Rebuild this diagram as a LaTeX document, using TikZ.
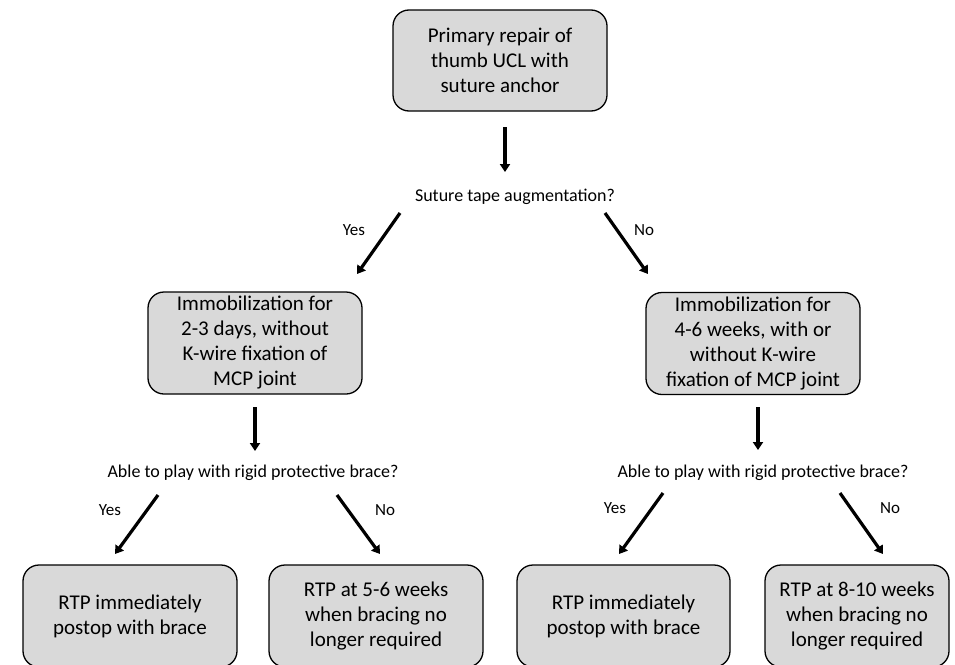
\documentclass[tikz,border=0pt]{standalone}
\usepackage{fontspec}
\setmainfont{Carlito}
\usetikzlibrary{arrows.meta}
\definecolor{boxgray}{RGB}{217,217,217}
\begin{document}
\begin{tikzpicture}[x=1pt,y=-1pt,
  box/.style={draw, line width=1.3pt, fill=boxgray, rounded corners=16pt, align=center,
    inner sep=0pt, minimum height=102pt, font=\fontsize{21}{25}\selectfont},
  ques/.style={font=\fontsize{18}{22}\selectfont, inner sep=0pt},
  lab/.style={font=\fontsize{17}{20}\selectfont, inner sep=0pt},
  arr/.style={line width=3.2pt, -{Triangle[length=8pt,width=10pt]}}]
\useasboundingbox (0,0) rectangle (955,664);
% boxes
\node[box, minimum width=214pt, minimum height=101pt] (top) at (500,60.5) {Primary repair of\\thumb UCL with\\suture anchor};
\node[box, minimum width=214pt] (midL) at (255,343) {Immobilization for\\2-3 days, without\\K-wire fixation of\\MCP joint};
\node[box, minimum width=214pt] (midR) at (753,343.5) {Immobilization for\\4-6 weeks, with or\\without K-wire\\fixation of MCP joint};
\node[box, minimum width=214pt] (b1) at (130,616) {RTP immediately\\postop with brace};
\node[box, minimum width=214pt] (b2) at (376,616) {RTP at 5-6 weeks\\when bracing no\\longer required};
\node[box, minimum width=213pt] (b3) at (623.5,616) {RTP immediately\\postop with brace};
\node[box, minimum width=184pt] (b4) at (857,616) {RTP at 8-10 weeks\\when bracing no\\longer required};
% questions
\node[ques] (q1) at (515,197) {Suture tape augmentation?};
\node[ques] (q2) at (253,473) {Able to play with rigid protective brace?};
\node[ques] (q3) at (763,473) {Able to play with rigid protective brace?};
% labels
\node[lab] (y1) at (354,230) {Yes};
\node[lab] (n1) at (644,230) {No};
\node[lab] (y2) at (110,510) {Yes};
\node[lab] (n2) at (385,510) {No};
\node[lab] (y3) at (615,508) {Yes};
\node[lab] (n3) at (890,508) {No};
% arrow end points
\coordinate (t0) at (505,127); \coordinate (t1) at (505,172);
\coordinate (ys1) at (400,213); \coordinate (ye1) at (357,274);
\coordinate (ns1) at (605,213); \coordinate (ne1) at (648,274);
\coordinate (l0) at (255,407); \coordinate (l1) at (255,451);
\coordinate (r0) at (758,407); \coordinate (r1) at (758,450);
\coordinate (ys2) at (158,495); \coordinate (ye2) at (115,554);
\coordinate (ns2) at (337,495); \coordinate (ne2) at (380,554);
\coordinate (ys3) at (663,493); \coordinate (ye3) at (619,554);
\coordinate (ns3) at (840,493); \coordinate (ne3) at (883,554);
% arrows
\draw[arr] (t0) -- (t1);
\draw[arr] (ys1) -- (ye1);
\draw[arr] (ns1) -- (ne1);
\draw[arr] (l0) -- (l1);
\draw[arr] (r0) -- (r1);
\draw[arr] (ys2) -- (ye2);
\draw[arr] (ns2) -- (ne2);
\draw[arr] (ys3) -- (ye3);
\draw[arr] (ns3) -- (ne3);
\end{tikzpicture}
\end{document}
